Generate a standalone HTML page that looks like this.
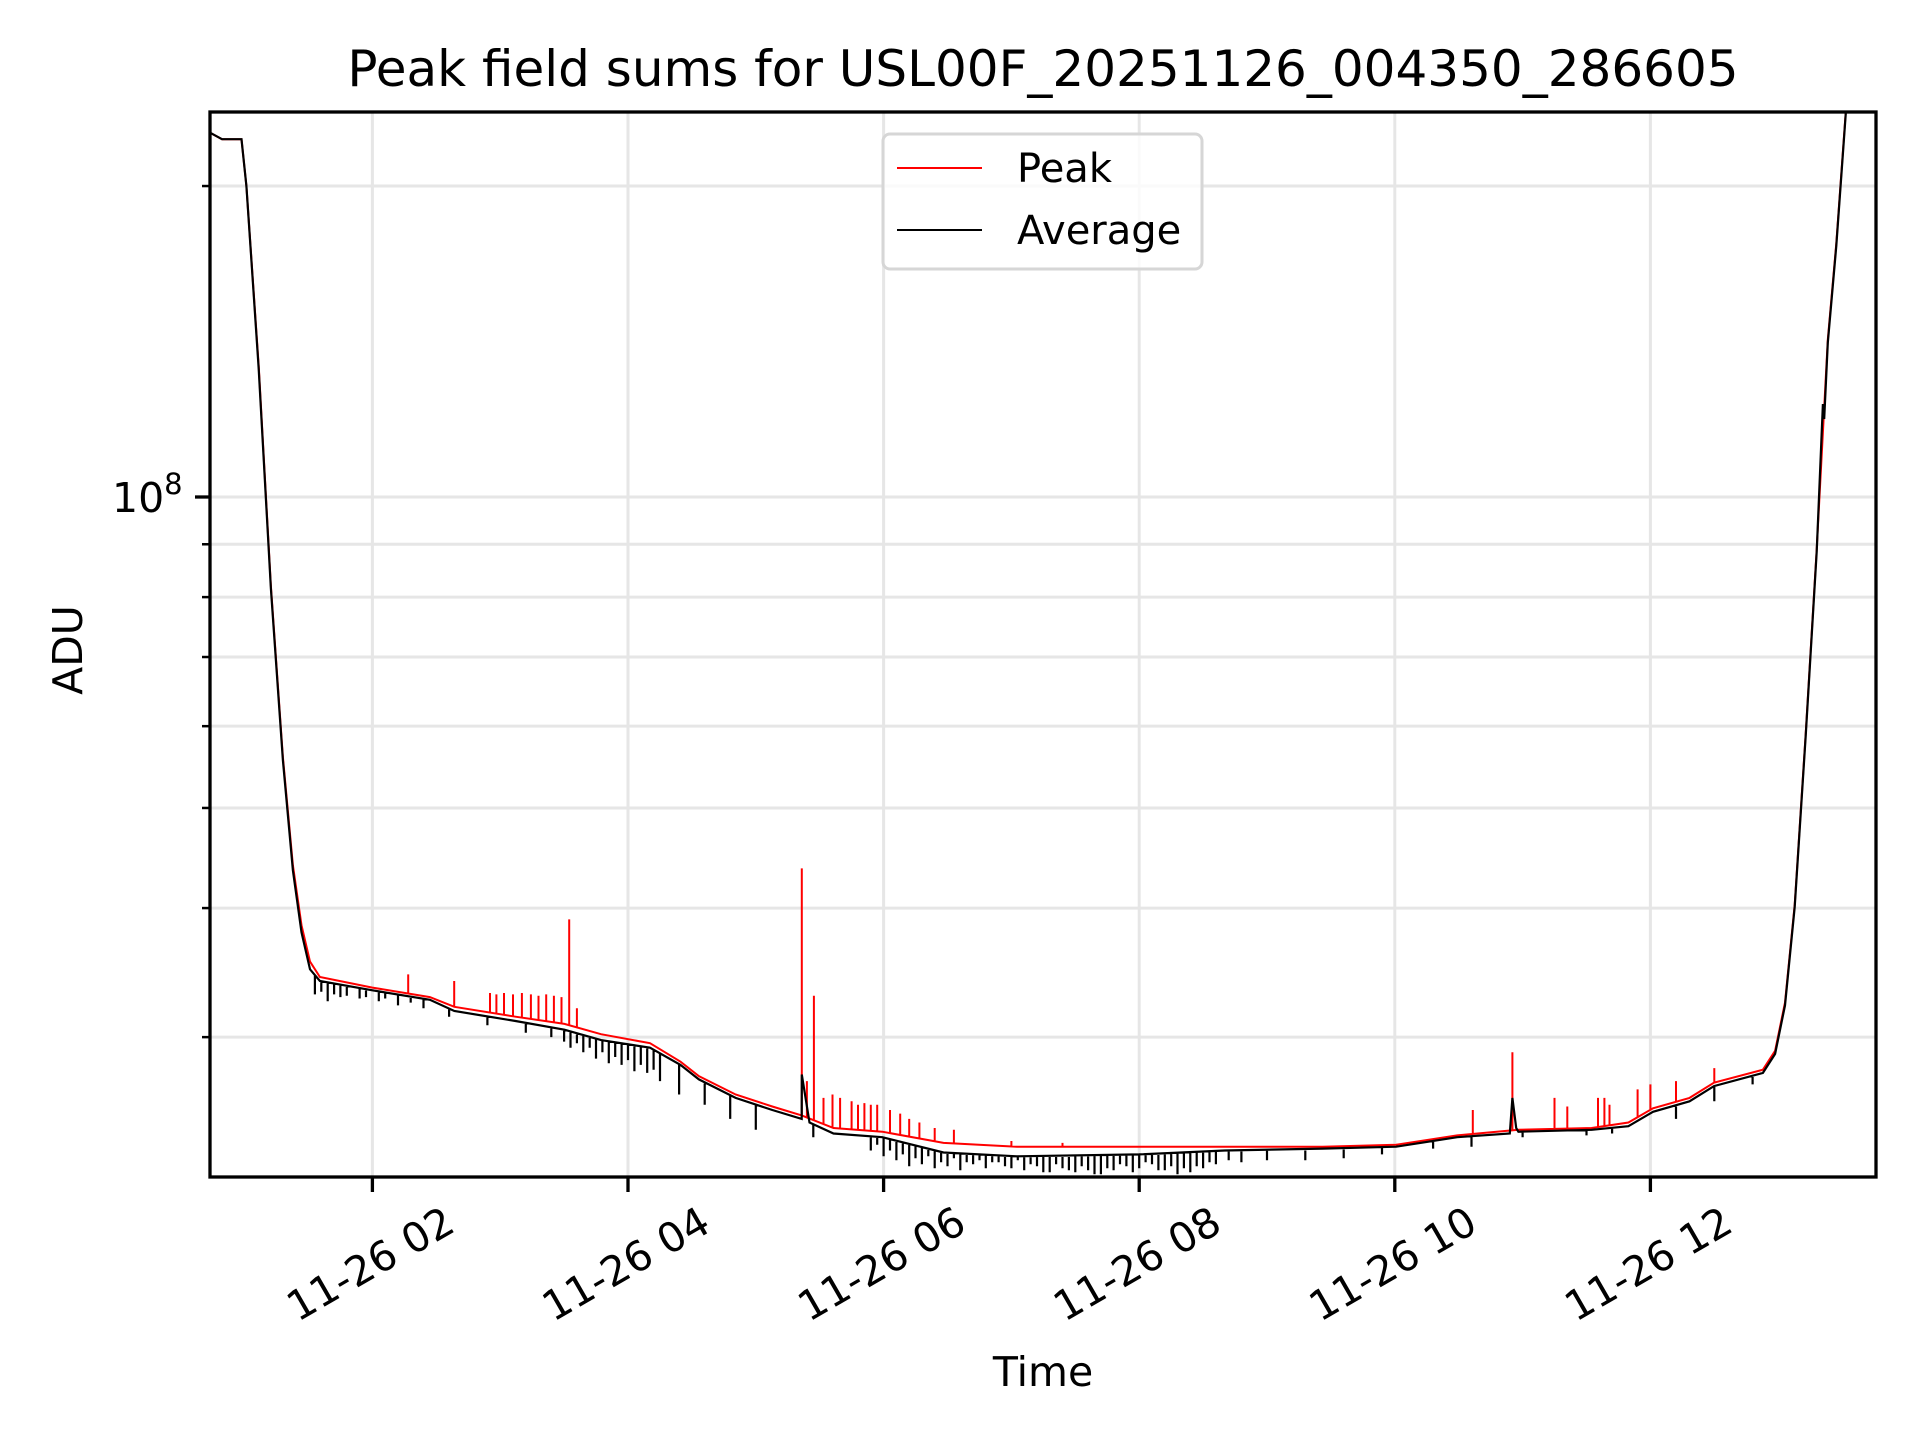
<!DOCTYPE html>
<html><head><meta charset="utf-8"><style>
body{margin:0;background:#fff}
svg text{font-family:"DejaVu Sans","Liberation Sans",sans-serif;fill:#000}
</style></head><body>
<svg id="chart" width="1920" height="1440" viewBox="0 0 1920 1440" xmlns="http://www.w3.org/2000/svg">
<rect width="1920" height="1440" fill="#fff"/>
<text x="1043" y="86" font-size="50" text-anchor="middle">Peak field sums for USL00F_20251126_004350_286605</text>
<text x="1043" y="1386" font-size="41" text-anchor="middle">Time</text>
<text transform="translate(82,650) rotate(-90)" font-size="41" text-anchor="middle">ADU</text>
<defs><clipPath id="plotclip"><rect x="210" y="112" width="1666" height="1065"/></clipPath></defs>
<g id="grid"></g>
<g id="series" clip-path="url(#plotclip)"></g>
<rect x="210" y="112" width="1666" height="1065" fill="none" stroke="#000" stroke-width="3.3"/>
<g id="axes"></g>
<g>
<rect x="883" y="134" width="319" height="135" rx="7" fill="#fff" fill-opacity="0.8" stroke="#d6d6d6" stroke-width="3"/>
<line x1="897" y1="168" x2="982" y2="168" stroke="#f00" stroke-width="2"/>
<text x="1017" y="182" font-size="40">Peak</text>
<line x1="897" y1="230" x2="982" y2="230" stroke="#000" stroke-width="2"/>
<text x="1017" y="244" font-size="40">Average</text>
</g>
</svg>
<script>
// times in hours of 2025-11-26, values in units of 1e7 ADU
const avgT=[0.737,0.823,0.976,1.014,1.11,1.206,1.30,1.378,1.445,1.512,1.589,2.0,2.45,2.641,3.12,3.502,3.789,4.172,4.411,4.555,4.842,5.129,5.359,5.36,5.42,5.608,5.99,6.469,7.043,8.0,8.67,9.435,10.01,10.488,10.90,10.92,10.95,10.967,11.54,11.828,12.02,12.306,12.498,12.88,12.976,13.053,13.129,13.215,13.301,13.35,13.36,13.388,13.455,13.53,13.6];
const avgV=[22.5,22.2,22.2,20.0,13.3,8.15,5.56,4.35,3.79,3.49,3.40,3.33,3.26,3.18,3.11,3.05,2.98,2.93,2.82,2.73,2.62,2.55,2.50,2.76,2.48,2.42,2.40,2.32,2.30,2.31,2.33,2.34,2.35,2.40,2.42,2.62,2.45,2.43,2.44,2.46,2.54,2.60,2.69,2.77,2.89,3.22,4.01,5.87,8.85,12.3,11.9,14.1,17.5,23.6,27];
const pkT=[0.737,0.823,0.976,1.014,1.11,1.206,1.30,1.378,1.445,1.512,1.589,2.0,2.45,2.641,3.12,3.502,3.789,4.172,4.411,4.555,4.842,5.129,5.359,5.608,5.99,6.469,7.043,8.0,8.67,9.435,10.01,10.488,10.967,11.54,11.828,12.02,12.306,12.498,12.88,12.976,13.053,13.129,13.215,13.301,13.388,13.455,13.53,13.6];
const pkV=[22.5,22.2,22.2,20.0,13.4,8.2,5.6,4.4,3.85,3.55,3.43,3.35,3.28,3.21,3.14,3.09,3.02,2.96,2.84,2.75,2.64,2.57,2.52,2.45,2.43,2.37,2.35,2.35,2.35,2.35,2.36,2.41,2.44,2.45,2.48,2.56,2.62,2.71,2.79,2.91,3.24,4.03,5.9,8.9,14.2,17.6,23.7,27];
const spikeT=[2.28,2.64,2.92,2.97,3.03,3.1,3.17,3.24,3.3,3.36,3.42,3.48,3.54,3.6,5.36,5.455,5.4,5.53,5.6,5.66,5.75,5.8,5.85,5.9,5.95,6.05,6.13,6.2,6.28,6.4,6.55,7.0,7.4,10.61,10.92,11.25,11.35,11.59,11.64,11.68,11.9,12.0,12.2,12.5];
const spikeV=[3.45,3.40,3.31,3.30,3.31,3.30,3.31,3.30,3.29,3.30,3.29,3.28,3.90,3.20,4.37,3.29,2.72,2.62,2.64,2.62,2.60,2.58,2.59,2.58,2.58,2.55,2.53,2.50,2.48,2.45,2.44,2.38,2.37,2.55,2.90,2.62,2.57,2.62,2.62,2.58,2.67,2.70,2.72,2.80];
const dipT=[1.55,1.6,1.65,1.7,1.75,1.8,1.9,1.95,2.05,2.1,2.2,2.3,2.4,2.6,2.9,3.2,3.4,3.5,3.55,3.6,3.65,3.7,3.75,3.8,3.85,3.9,3.95,4.0,4.05,4.1,4.15,4.2,4.25,4.4,4.6,4.8,5.0,5.45,5.9,5.95,6.0,6.05,6.1,6.15,6.2,6.25,6.3,6.35,6.4,6.45,6.5,6.55,6.6,6.65,6.7,6.75,6.8,6.85,6.9,6.95,7.0,7.05,7.1,7.15,7.2,7.25,7.3,7.35,7.4,7.45,7.5,7.55,7.6,7.65,7.7,7.75,7.8,7.85,7.9,7.95,8.0,8.05,8.1,8.15,8.2,8.25,8.3,8.35,8.4,8.45,8.5,8.55,8.6,8.7,8.8,9.0,9.3,9.6,9.9,10.3,10.6,11.0,11.5,11.7,12.2,12.5,12.8];
const dipV=[3.30,3.32,3.25,3.30,3.28,3.29,3.27,3.28,3.25,3.27,3.22,3.24,3.20,3.14,3.08,3.03,3.00,2.97,2.93,2.96,2.90,2.93,2.86,2.90,2.83,2.87,2.82,2.85,2.78,2.82,2.77,2.79,2.72,2.64,2.58,2.50,2.44,2.40,2.33,2.36,2.30,2.33,2.28,2.31,2.25,2.29,2.26,2.30,2.24,2.27,2.25,2.29,2.23,2.27,2.26,2.28,2.24,2.27,2.27,2.25,2.24,2.28,2.23,2.26,2.25,2.22,2.22,2.26,2.24,2.23,2.22,2.25,2.23,2.21,2.21,2.24,2.23,2.26,2.25,2.22,2.24,2.27,2.26,2.23,2.23,2.25,2.21,2.24,2.22,2.25,2.24,2.27,2.26,2.28,2.27,2.28,2.28,2.29,2.31,2.34,2.35,2.40,2.41,2.42,2.50,2.60,2.70];
const xTicks=[2,4,6,8,10,12];
const xTickLabels=["11-26 02","11-26 04","11-26 06","11-26 08","11-26 10","11-26 12"];
const yMinor=[3,4,5,6,7,8,9,20];

const NS="http://www.w3.org/2000/svg";
const X=t=>628+(t-4)*127.8;
const Y=v=>497-Math.log10(v/10)*1033;
function mk(tag,attrs,parent){const e=document.createElementNS(NS,tag);for(const k in attrs)e.setAttribute(k,attrs[k]);parent.appendChild(e);return e;}
const grid=document.getElementById('grid'),axes=document.getElementById('axes'),series=document.getElementById('series');
xTicks.forEach((t,i)=>{
  const g=mk('line',{x1:X(t),x2:X(t),y1:112,y2:1177,stroke:'#e6e6e6','stroke-width':3},grid);
  
  
  const tk=mk('line',{x1:X(t),x2:X(t),y1:1177,y2:1192,stroke:'#000','stroke-width':3.3},axes);
  
  
  const tx=mk('text',{x:0,y:0,'font-size':41,'text-anchor':'middle','dominant-baseline':'central',transform:`translate(${X(t)-2},1264) rotate(-30)`},axes);
  tx.textContent=xTickLabels[i];
  
  
});
[10].concat(yMinor).forEach(v=>{
  const g=mk('line',{x1:210,x2:1876,y1:Y(v),y2:Y(v),stroke:'#e6e6e6','stroke-width':3},grid);
  
  
  const major=v===10;
  const tk=mk('line',{x1:major?195:202,x2:210,y1:Y(v),y2:Y(v),stroke:'#000','stroke-width':major?3.3:2.5},axes);
  
  
});
const yl=mk('text',{x:112,y:Y(10)+15,'font-size':41},axes);
yl.textContent='10';


const ys=mk('tspan',{dy:-18,'font-size':29},yl);ys.textContent='8';
function pathFrom(ts,vs){return ts.map((t,i)=>(i?'L':'M')+X(t).toFixed(1)+' '+Y(vs[i]).toFixed(1)).join(' ');}
function lerp(ts,vs,t){for(let i=1;i<ts.length;i++){if(t<=ts[i]){const f=(t-ts[i-1])/(ts[i]-ts[i-1]);return Math.exp(Math.log(vs[i-1])+f*(Math.log(vs[i])-Math.log(vs[i-1])));}}return vs[vs.length-1];}
let sp='';spikeT.forEach((t,i)=>{sp+=`M${X(t).toFixed(1)} ${Y(lerp(pkT,pkV,t)).toFixed(1)} L${X(t).toFixed(1)} ${Y(spikeV[i]).toFixed(1)} `;});
const pk=mk('path',{d:pathFrom(pkT,pkV)+' '+sp,fill:'none',stroke:'#f00','stroke-width':2},series);


let dp='';dipT.forEach((t,i)=>{dp+=`M${X(t).toFixed(1)} ${Y(lerp(avgT,avgV,t)).toFixed(1)} L${X(t).toFixed(1)} ${Y(dipV[i]).toFixed(1)} `;});
const av=mk('path',{d:pathFrom(avgT,avgV)+' '+dp,fill:'none',stroke:'#000','stroke-width':2.2},series);


</script>
</body></html>
